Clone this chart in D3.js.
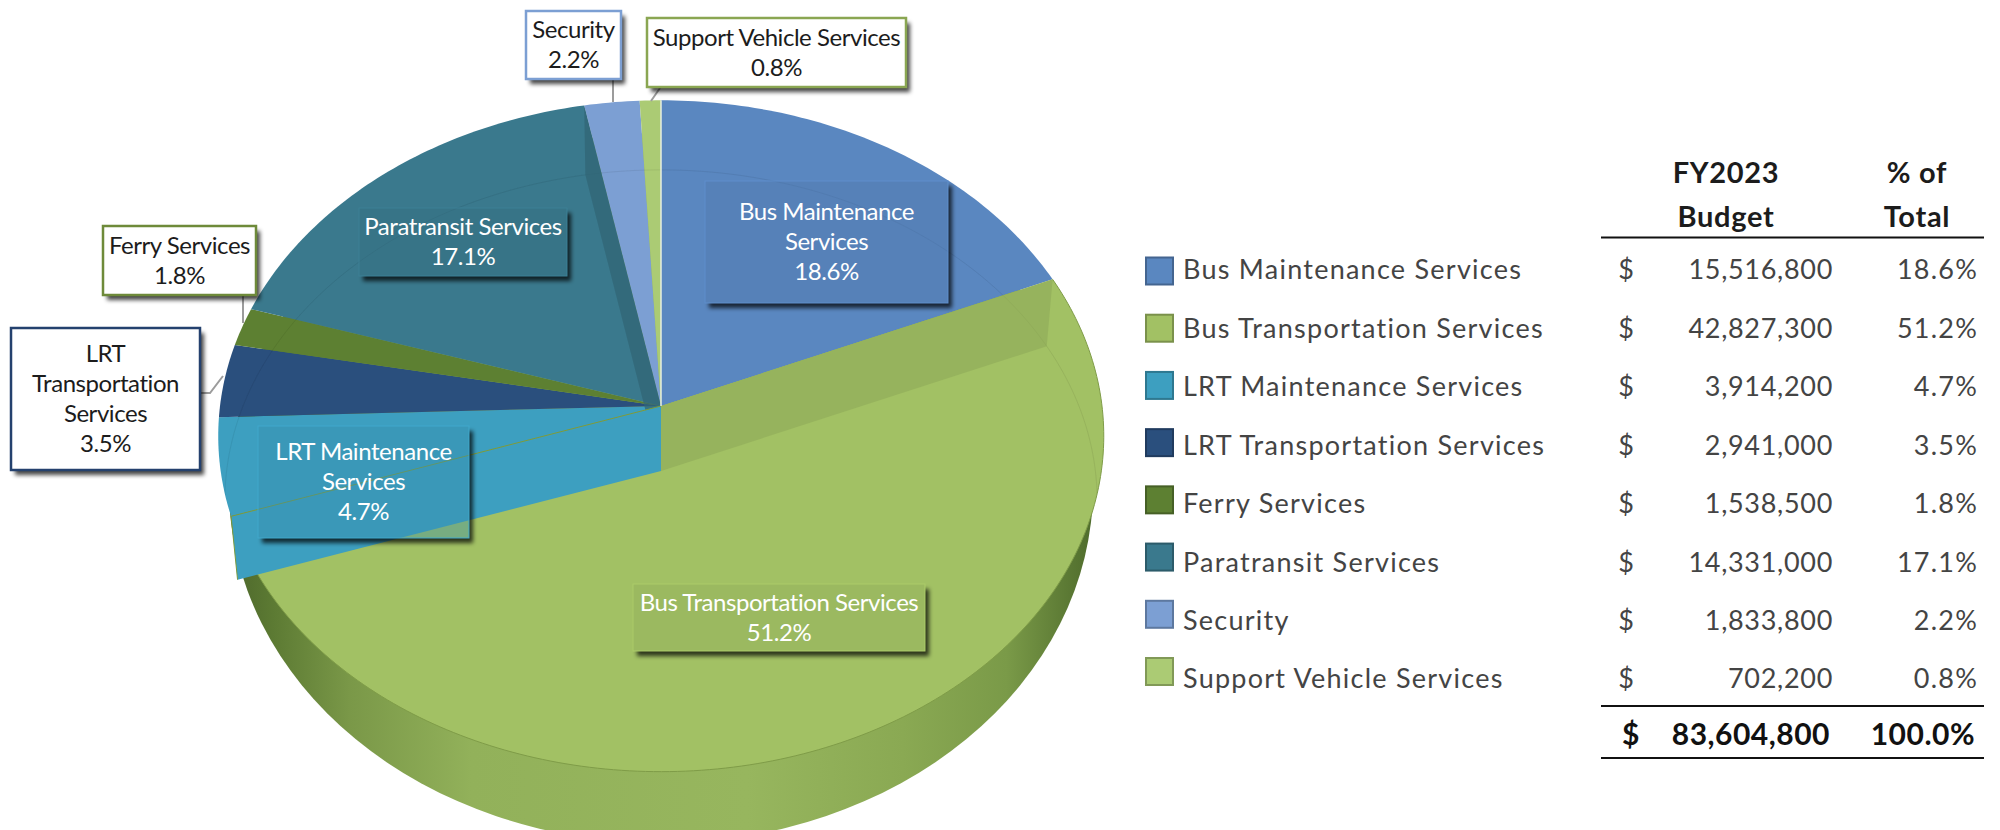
<!DOCTYPE html>
<html>
	<head>
		<meta charset="UTF-8">
		<title>FY2023 Budget</title>
		<style>
			html, body { margin: 0; padding: 0; background: #fff; }
			text { font-family: Lato, "Open Sans", sans-serif; }
		</style>
	</head>
	<body>
		<div id="chart"></div>
		<script src="https://d3js.org/d3.v7.min.js"></script>
		<script>
			var categories = ["Bus Maintenance Services", "Bus Transportation Services", "LRT Maintenance Services",
				"LRT Transportation Services", "Ferry Services", "Paratransit Services", "Security", "Support Vehicle Services"];
			var budget = [15516800, 42827300, 3914200, 2941000, 1538500, 14331000, 1833800, 702200];
			var colors = ["#5a87c0", "#a2c164", "#3d9fc0", "#2a4f7d", "#5d8032", "#3a798d", "#7c9fd3", "#abcb74"];
			var headerBudget = ["FY2023", "Budget"];
			var headerShare = ["% of", "Total"];

			// callouts, same order as categories
			var labelLines = [
				["Bus Maintenance", "Services"], ["Bus Transportation Services"], ["LRT Maintenance", "Services"],
				["LRT", "Transportation", "Services"], ["Ferry Services"], ["Paratransit Services"], ["Security"], ["Support Vehicle Services"]
			];
			var labelBoxes = [
				[705, 181, 243, 122], [633, 584, 292, 67], [258, 426, 211, 112], [11, 328, 189, 142],
				[103, 226, 153, 69], [359, 208, 208, 68], [526, 11, 95, 68], [647, 18, 259, 69]
			];
			var labelInside = [true, true, true, false, false, true, false, false];
			var labelBorder = ["#5a87c0", "#a2c164", "#3d9fc0", "#24416e", "#6e8a3a", "#3a798d", "#7c9fd3", "#8aa652"];

			var width = 2000, height = 830;
			var apex = [661, 406], rx = 441, ry = 333, tilt = -0.0893, depth = 65, shrink = 0.985;

			var svg = d3.select("#chart").append("svg")
				.attr("width", width).attr("height", height)
				.style("display", "block");
			var defs = svg.append("defs");

			var wallGrad = defs.append("linearGradient").attr("id", "wallGrad")
				.attr("gradientUnits", "userSpaceOnUse")
				.attr("x1", 229).attr("x2", 1093).attr("y1", 0).attr("y2", 0);
			[[0, "#4c662b"], [0.05, "#5c7a33"], [0.14, "#7a9848"], [0.28, "#92b15a"], [0.6, "#97b65e"], [0.78, "#8aa953"], [0.9, "#7a9a48"], [1, "#4f6c2c"]].forEach(function(s) {
				wallGrad.append("stop").attr("offset", s[0]).attr("stop-color", s[1]);
			});
			defs.append("filter").attr("id", "blur").attr("x", "-20%").attr("y", "-20%").attr("width", "140%").attr("height", "140%")
				.append("feGaussianBlur").attr("stdDeviation", 2.2);

			// project a point of the unit circle to the tilted pie
			function project(a, drop) {
				var u = Math.sin(a), v = -Math.cos(a), w = 1 + tilt * v;
				var x = rx * u / w, y = ry * v / w;
				if (drop) {
					return [apex[0] + x * shrink, apex[1] + y * shrink + depth];
				}
				return [apex[0] + x, apex[1] + y];
			}
			function arcPoints(a0, a1, drop) {
				var n = Math.max(2, Math.ceil((a1 - a0) * 60));
				return d3.range(n + 1).map(function(i) {
					return project(a0 + (a1 - a0) * i / n, drop);
				});
			}
			var line = d3.line();
			function wedgePath(d) {
				return line([apex].concat(arcPoints(d.startAngle, d.endAngle, false))) + "Z";
			}

			var slices = d3.pie().sort(null)(budget);
			var total = d3.sum(budget);

			// outer wall, only its lower part sticks out below the top face
			var pie = svg.append("g");
			pie.append("ellipse")
				.attr("cx", 661).attr("cy", 488).attr("rx", 432).attr("ry", 355)
				.attr("fill", "url(#wallGrad)");

			pie.selectAll(".slice").data(slices).join("path")
				.attr("class", "slice")
				.attr("d", wedgePath)
				.attr("fill", function(d, i) { return colors[i]; });
			pie.append("path")
				.attr("d", line(arcPoints(slices[1].startAngle, slices[1].endAngle, false)))
				.attr("fill", "none").attr("stroke", "#7f9c48").attr("stroke-width", 1);

			// the bottom rim shows faintly through every face
			slices.forEach(function(d, i) {
				defs.append("clipPath").attr("id", "sliceClip" + i)
					.append("path").attr("d", wedgePath(d));
				pie.append("path")
					.attr("d", line(arcPoints(0, 2 * Math.PI, true)))
					.attr("fill", "none")
					.attr("stroke", d3.color(colors[i]).darker(0.6))
					.attr("stroke-width", 1)
					.attr("stroke-opacity", 0.35)
					.attr("clip-path", "url(#sliceClip" + i + ")");
			});

			// cut faces of the wedges
			function cutFace(a, fill, op) {
				pie.append("path")
					.attr("d", line([apex, project(a, false), project(a, true), [apex[0], apex[1] + depth]]) + "Z")
					.attr("fill", fill).attr("fill-opacity", op);
			}
			cutFace(slices[1].startAngle, d3.color(colors[1]).darker(0.4), 0.55);
			cutFace(slices[5].endAngle, d3.color(colors[5]).darker(0.5), 0.75);
			cutFace(slices[2].startAngle, colors[2], 1);
			pie.append("path")
				.attr("d", line([apex, project(slices[2].startAngle, false), project(slices[2].startAngle, true)]))
				.attr("fill", "none").attr("stroke", "#7c9a3c").attr("stroke-width", 1);
			pie.append("path")
				.attr("d", line([apex, project(0, false)]))
				.attr("stroke", "#e8efe0").attr("stroke-width", 1.5);

			// leader lines
			var leaders = [
				[[613, 80], [613, 102]],
				[[660, 88], [651, 101]],
				[[243, 296], [243, 323]],
				[[200, 393], [210, 393], [223, 376]]
			];
			svg.append("g").selectAll("path").data(leaders).join("path")
				.attr("d", function(d) { return line(d); })
				.attr("fill", "none").attr("stroke", "#9c9c9c").attr("stroke-width", 2);

			// callout boxes
			var labelG = svg.append("g").selectAll("g").data(slices).join("g");
			labelG.each(function(d, i) {
				var g = d3.select(this), b = labelBoxes[i];
				defs.append("clipPath").attr("id", "shadowClip" + i)
					.append("path")
					.attr("clip-rule", "evenodd")
					.attr("d", "M0 0H" + width + "V" + height + "H0Z M" + b[0] + " " + b[1] + "h" + b[2] + "v" + b[3] + "h" + (-b[2]) + "Z");
				g.append("rect")
					.attr("x", b[0] + 4).attr("y", b[1] + 5).attr("width", b[2]).attr("height", b[3])
					.attr("fill", "#000").attr("fill-opacity", 0.72)
					.attr("filter", "url(#blur)")
					.attr("clip-path", "url(#shadowClip" + i + ")");
				g.append("rect")
					.attr("x", b[0]).attr("y", b[1]).attr("width", b[2]).attr("height", b[3])
					.attr("fill", labelInside[i] ? d3.color(colors[i]).darker(0.3) : "#fff")
					.attr("fill-opacity", labelInside[i] ? 0.4 : 1)
					.attr("stroke", labelInside[i] ? d3.color(colors[i]).brighter(0.15) : labelBorder[i])
					.attr("stroke-width", labelInside[i] ? 1 : 2.5);
				var lines = labelLines[i].concat(d3.format(".1%")(d.value / total));
				g.selectAll("text").data(lines).join("text")
					.attr("x", b[0] + b[2] / 2)
					.attr("y", function(t, j) { return b[1] + b[3] / 2 + (j - (lines.length - 1) / 2) * 30; })
					.attr("dy", "0.35em")
					.attr("text-anchor", "middle")
					.attr("font-size", 24)
					.attr("letter-spacing", -0.45)
					.attr("fill", labelInside[i] ? "#fff" : "#1c1c1c")
					.text(function(t) { return t; });
			});

			// legend + table
			var swatchY = d3.scalePoint().domain(categories).range([270.5, 671]);
			var rowY = d3.scalePoint().domain(categories).range([270, 679]);
			var table = svg.append("g");
			table.append("g").selectAll("rect").data(categories).join("rect")
				.attr("x", 1146).attr("y", function(d) { return swatchY(d) - 13; })
				.attr("width", 27).attr("height", 27)
				.attr("fill", function(d, i) { return colors[i]; })
				.attr("stroke", function(d, i) { return d3.color(colors[i]).darker(0.8); })
				.attr("stroke-width", 2);
			var row = table.append("g").selectAll("g").data(categories).join("g")
				.attr("transform", function(d) { return "translate(0," + rowY(d) + ")"; });
			row.append("text")
				.attr("x", 1183).attr("dy", "0.35em")
				.attr("font-size", 27).attr("letter-spacing", 1.25).attr("fill", "#444")
				.text(function(d) { return d; });
			row.append("text")
				.attr("x", 1626).attr("dy", "0.35em").attr("text-anchor", "middle")
				.attr("font-size", 27).attr("fill", "#444").text("$");
			row.append("text")
				.attr("x", 1833).attr("dy", "0.35em").attr("text-anchor", "end")
				.attr("font-size", 27).attr("letter-spacing", 0.7).attr("fill", "#444")
				.text(function(d, i) { return d3.format(",")(budget[i]); });
			row.append("text")
				.attr("x", 1978).attr("dy", "0.35em").attr("text-anchor", "end")
				.attr("font-size", 27).attr("letter-spacing", 1.2).attr("fill", "#444")
				.text(function(d, i) { return d3.format(".1%")(budget[i] / total); });

			function header(lines, x) {
				table.append("g").selectAll("text").data(lines).join("text")
					.attr("x", x)
					.attr("y", function(d, i) { return 173 + i * 44; })
					.attr("dy", "0.35em").attr("text-anchor", "middle")
					.attr("font-size", 29).attr("letter-spacing", 0.7).attr("font-weight", 700).attr("fill", "#1c1c1c")
					.text(function(d) { return d; });
			}
			header(headerBudget, 1726);
			header(headerShare, 1917);

			table.append("g").selectAll("line").data([237.5, 706, 758]).join("line")
				.attr("x1", 1601).attr("x2", 1984)
				.attr("y1", function(d) { return d; }).attr("y2", function(d) { return d; })
				.attr("stroke", "#111").attr("stroke-width", 2);

			var totalRow = table.append("g").attr("transform", "translate(0,734)");
			[["$", 1631, "middle"], [d3.format(",")(total), 1830, "end"], [d3.format(".1%")(1), 1975, "end"]].forEach(function(t) {
				totalRow.append("text")
					.attr("x", t[1]).attr("dy", "0.35em").attr("text-anchor", t[2])
					.attr("font-size", 30).attr("letter-spacing", 0.5).attr("font-weight", 700).attr("fill", "#111")
					.text(t[0]);
			});
		</script>
	</body>
</html>
